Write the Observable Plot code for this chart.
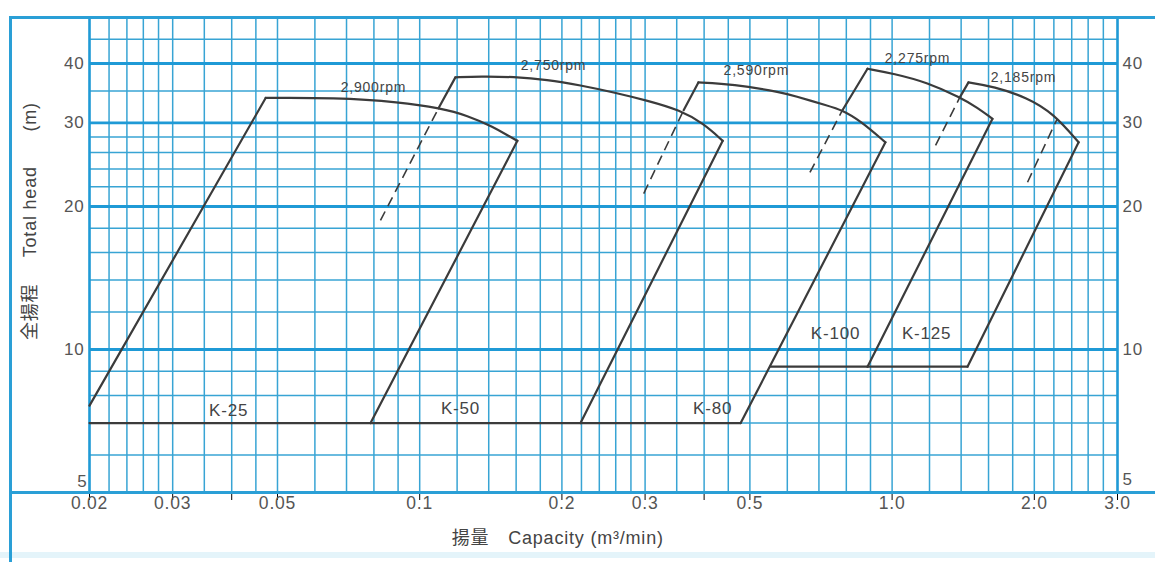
<!DOCTYPE html>
<html><head><meta charset="utf-8">
<script src="https://cdn.jsdelivr.net/npm/d3@7"></script>
<script src="https://cdn.jsdelivr.net/npm/@observablehq/plot@0.6"></script>
<style>
html,body{margin:0;padding:0;background:#fff;}
#wrap{position:relative;width:1155px;height:562px;overflow:hidden;background:#fff;}
#chart{position:absolute;left:0;top:0;}
#chart svg text{letter-spacing:0.8px;}
#chart svg g[aria-label="x-axis"] line{stroke:#1f9ad6;stroke-width:1.3px;}
#chart svg g[aria-label="x-axis"] path{display:none;}
.fl{position:absolute;background:#2a9fd6;z-index:2;}
.band{position:absolute;left:0;top:552px;width:1155px;height:6px;background:#e4f4fa;}
</style></head><body>
<div id="wrap">
  <div id="chart"></div>
  <div class="band"></div>
  <div class="fl" style="left:9px;top:16px;width:2.5px;height:546px"></div>
  <div class="fl" style="left:9px;top:16px;width:1146px;height:2.5px"></div>
  <div class="fl" style="left:9px;top:491px;width:1146px;height:2.5px"></div>
</div>
<script>
// ---- pump models and speeds ----
const models = ["K-25", "K-50", "K-80", "K-100", "K-125"];
const speeds = ["2,900rpm", "2,750rpm", "2,590rpm", "2,275rpm", "2,185rpm"];

// top (rpm) curve of each model: capacity (m3/min) and head (m)
const topCapacity = [
  [0.0472, 0.0657, 0.0911, 0.1107, 0.1262, 0.1433, 0.1557, 0.161],
  [0.119, 0.1345, 0.158, 0.186, 0.219, 0.257, 0.304, 0.356, 0.399, 0.438],
  [0.389, 0.433, 0.494, 0.580, 0.619, 0.730, 0.785, 0.857, 0.968],
  [0.887, 1.007, 1.188, 1.396, 1.516, 1.631],
  [1.451, 1.639, 1.935, 2.196, 2.482]
];
const topHead = [
  [33.85, 33.9, 33.2, 32.2, 31.1, 29.4, 28.0, 27.5],
  [37.4, 37.6, 37.5, 37.0, 36.0, 34.8, 33.4, 31.9, 29.9, 27.5],
  [36.5, 36.3, 35.8, 34.8, 34.25, 32.6, 31.9, 30.3, 27.3],
  [39.0, 38.1, 36.5, 33.9, 32.3, 30.6],
  [36.5, 35.8, 33.9, 31.4, 27.3]
];

// lower limit line of each model
const bottomHead = [7.0, 7.0, 7.0, 9.2, 9.2];
const bottomStart = [0.02, 0.0787, 0.219, 0.553, 0.887];
const bottomEnd = [0.0787, 0.219, 0.478, 0.887, 1.444];

// left edge: lower (dashed) end and where it turns solid
const leftLowQ = [0.02, 0.0826, 0.298, 0.670, 1.236];
const leftLowH = [7.62, 18.7, 21.3, 23.6, 26.9];
const leftCrossQ = [0.02, 0.1096, 0.362, 0.785, 1.39];
const leftCrossH = [7.62, 32.2, 31.9, 31.9, 33.9];

// extra dashed limit inside the K-125 range
const extraDashQ = [1.935, 2.236];
const extraDashH = [22.5, 30.6];

// label anchors (data coordinates)
const speedLabelQ = [0.0798, 0.192, 0.516, 1.132, 1.897];
const speedLabelH = [35.6, 39.6, 38.7, 41.0, 37.4];
const modelLabelQ = [0.0394, 0.122, 0.417, 0.759, 1.183];
const modelLabelH = [7.44, 7.5, 7.5, 10.8, 10.8];

// axes
const xTickValues = [0.02, 0.03, 0.05, 0.1, 0.2, 0.3, 0.5, 1, 2, 3];
const xTickLabels = ["0.02", "0.03", "0.05", "0.1", "0.2", "0.3", "0.5", "1.0", "2.0", "3.0"];
const xExtraTicks = [0.04, 0.4];
const yTickValues = [10, 20, 30, 40];
const yTickLabels = ["10", "20", "30", "40"];
const yBottomTick = [5];
const xGrid = [0.02,0.022,0.024,0.026,0.028,0.03,0.035,0.04,0.045,0.05,0.06,0.07,0.08,0.09,
  0.1,0.12,0.14,0.16,0.18,0.2,0.22,0.24,0.26,0.28,0.3,0.35,0.4,0.45,0.5,0.6,0.7,0.8,0.9,
  1,1.2,1.4,1.6,1.8,2,2.2,2.4,2.6,2.8,3];
const yGrid = [5,6,7,8,9,10,12,14,16,18,20,22,24,26,28,30,35,40,45,50];
const yMajor = [10, 20, 30, 40];
const xLabel = "揚量　Capacity (m³/min)";
const yLabelParts = ["(m)", "Total head", "全揚程"];
const yLabelH = [30.9, 19.5, 12.0];
const xLabelQ = [0.196];

// ---- build tables ----
const topPts = [];
models.forEach((m, i) => topCapacity[i].forEach((q, j) => topPts.push({model: m, q, h: topHead[i][j]})));
const solidSegs = [];
const dashSegs = [];
models.forEach((m, i) => {
  const tq = topCapacity[i], th = topHead[i], n = tq.length - 1;
  solidSegs.push({x1: leftCrossQ[i], y1: leftCrossH[i], x2: tq[0], y2: th[0]});
  solidSegs.push({x1: tq[n], y1: th[n], x2: bottomEnd[i], y2: bottomHead[i]});
  solidSegs.push({x1: bottomStart[i], y1: bottomHead[i], x2: bottomEnd[i], y2: bottomHead[i]});
  if (leftLowQ[i] !== leftCrossQ[i])
    dashSegs.push({x1: leftLowQ[i], y1: leftLowH[i], x2: leftCrossQ[i], y2: leftCrossH[i]});
});
dashSegs.push({x1: extraDashQ[0], y1: extraDashH[0], x2: extraDashQ[1], y2: extraDashH[1]});

const thin = "#38a4d4", major = "#1f9ad6", ink = "#3b3b3b", txt = "#555";
const font = "'Liberation Sans', 'Noto Sans CJK JP', sans-serif";

const chart = Plot.plot({
  width: 1155, height: 562,
  marginLeft: 89, marginRight: 38, marginTop: 17, marginBottom: 70,
  x: {type: "log", domain: [0.02, 3], axis: "bottom", ticks: xTickValues.concat(xExtraTicks),
      tickFormat: () => "", tickSize: 8, tickPadding: 0, label: null},
  y: {type: "log", domain: [5, 50], axis: null},
  style: {background: "transparent", fontFamily: font},
  marks: [
    Plot.ruleX(xGrid, {stroke: thin, strokeWidth: 1.5}),
    Plot.ruleY(yGrid, {stroke: thin, strokeWidth: 1.5}),
    Plot.ruleY(yMajor, {stroke: major, strokeWidth: 2.9}),
    Plot.ruleX([0.02, 3], {stroke: major, strokeWidth: 2.5}),
    Plot.ruleY([5, 50], {stroke: major, strokeWidth: 2.5}),
    Plot.text(xTickValues, {x: d => d, text: (d, i) => xTickLabels[i], frameAnchor: "bottom",
      dy: 16, fontSize: 17.5, fill: txt}),
    Plot.text(yTickValues, {y: d => d, text: (d, i) => yTickLabels[i], frameAnchor: "left",
      dx: -5, textAnchor: "end", fontSize: 17, fill: txt}),
    Plot.text(yBottomTick, {y: d => d, text: d => String(d), frameAnchor: "left",
      dx: -2, dy: -11, textAnchor: "end", fontSize: 17, fill: txt}),
    Plot.text(yTickValues, {y: d => d, text: (d, i) => yTickLabels[i], frameAnchor: "right",
      dx: 5, textAnchor: "start", fontSize: 17, fill: txt}),
    Plot.text(yBottomTick, {y: d => d, text: d => String(d), frameAnchor: "right",
      dx: 5, dy: -13, textAnchor: "start", fontSize: 17, fill: txt}),
    Plot.text([xLabel], {x: xLabelQ, frameAnchor: "bottom", dy: 51, fontSize: 18, fill: "#444"}),
    Plot.text(yLabelParts, {y: yLabelH, text: d => d, frameAnchor: "left", dx: -59, rotate: -90,
      textAnchor: "middle", fontSize: 18, fill: "#444"}),
    Plot.line(topPts, {x: "q", y: "h", z: "model", curve: "basis", stroke: ink, strokeWidth: 2.2}),
    Plot.link(solidSegs, {x1: "x1", y1: "y1", x2: "x2", y2: "y2", stroke: ink, strokeWidth: 2.2,
      strokeLinecap: "round"}),
    Plot.link(dashSegs, {x1: "x1", y1: "y1", x2: "x2", y2: "y2", stroke: ink, strokeWidth: 1.6,
      strokeDasharray: "10,6"}),
    Plot.text(speeds, {x: speedLabelQ, y: speedLabelH, text: d => d, fontSize: 14, fill: "#444"}),
    Plot.text(models, {x: modelLabelQ, y: modelLabelH, text: d => d, fontSize: 17, fill: "#444"})
  ]
});
document.getElementById("chart").appendChild(chart);
</script>
</body></html>
